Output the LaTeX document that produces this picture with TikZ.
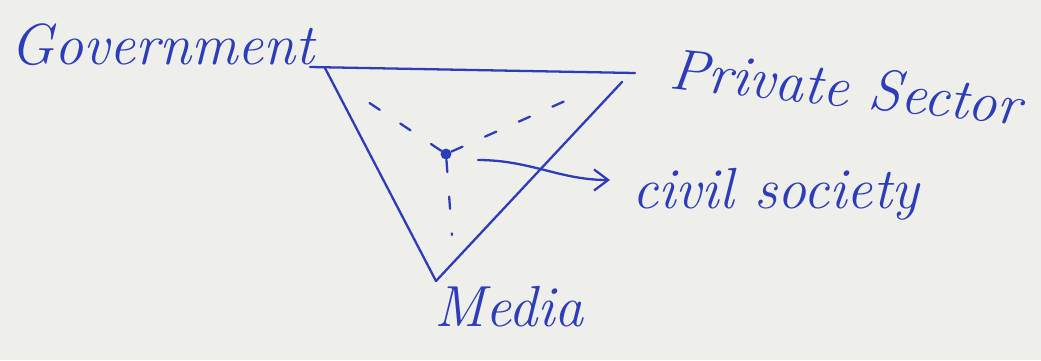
\documentclass[tikz,border=0pt]{standalone}
\usetikzlibrary{arrows.meta}
\definecolor{ink}{RGB}{45,60,185}
\definecolor{paper}{RGB}{238,238,234}
\tikzset{
  label/.style={text=ink, font=\fontsize{33}{40}\selectfont\itshape, inner sep=0pt},
  edge/.style={draw=ink, line width=1.3pt, line cap=round},
  hint/.style={draw=ink, line width=1.3pt, dash pattern=on 7pt off 14pt, line cap=round},
}
\begin{document}
\begin{tikzpicture}[x=0.02cm,y=-0.02cm]
\fill[paper] (0,0) rectangle (1041,360);
\useasboundingbox (0,0) rectangle (1041,360);
% labels
\node[label, anchor=base west] (gov) at (10,64) {Government};
\node[label, anchor=base west, rotate=-6] (priv) at (668,88) {Private Sector};
\node[label, anchor=base west] (civ) at (632,208) {civil society};
\node[label, anchor=base west] (med) at (434,326) {Media};
% vertices
\coordinate (tl) at (310,67);
\coordinate (tr) at (635,73);
\coordinate (lv) at (325,68);
\coordinate (rv) at (622,82);
\coordinate (bv) at (436,281);
\coordinate (dl) at (350,90);
\coordinate (dr) at (583,93);
\coordinate (db) at (452,235);
\coordinate (as) at (478,160);
\coordinate (ae) at (610,180);
% triangle
\draw[edge] (tl) -- (tr);
\draw[edge] (lv) -- (bv);
\draw[edge] (rv) -- (bv);
% centre
\node[circle, fill=ink, inner sep=2.2pt] (c) at (446,154) {};
\draw[hint] (c) -- (dl);
\draw[hint] (c) -- (dr);
\draw[hint] (c) -- (db);
\draw[edge, -{Straight Barb[length=8pt,width=12pt]}] (as) .. controls (530,160) and (560,180) .. (ae);
\end{tikzpicture}
\end{document}
